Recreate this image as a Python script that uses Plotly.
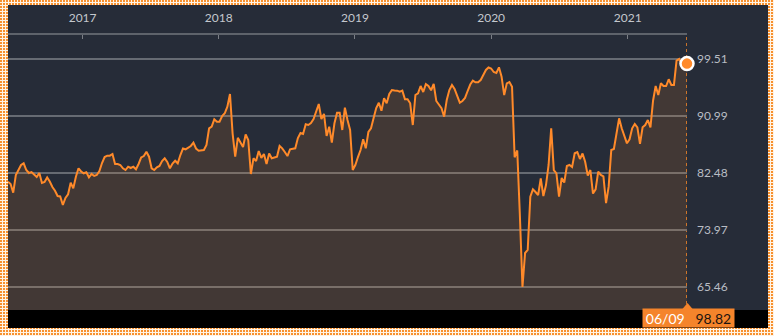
import base64
import pandas as pd
import plotly.graph_objects as go

# Weekly closing index values, mid-June 2016 through 9 June 2021
values = [
    81.19, 80.84, 79.54, 82.19, 82.93, 83.68, 83.93, 82.93, 82.49, 82.63,
    82.26, 81.89, 82.49, 80.99, 81.14, 81.81, 81.22, 80.39, 79.84, 79.05,
    78.98, 77.71, 78.75, 79.30, 81.04, 80.20, 81.93, 83.19, 82.71, 82.44,
    82.59, 81.84, 82.34, 82.04, 82.19, 82.78, 83.98, 84.87, 85.07, 85.07,
    85.32, 83.83, 83.83, 83.68, 83.19, 82.93, 83.43, 83.23, 83.43, 83.04,
    83.83, 84.80, 85.02, 85.67, 84.92, 83.19, 82.93, 83.34, 83.53, 84.28,
    84.68, 84.13, 83.19, 83.90, 84.32, 83.93, 85.17, 86.14, 86.02, 86.29,
    86.52, 87.01, 86.14, 85.82, 85.85, 85.92, 86.67, 89.16, 89.40, 90.51,
    90.15, 90.15, 91.00, 91.40, 92.39, 94.28, 88.41, 84.92, 87.74, 86.97,
    86.37, 88.23, 87.41, 82.34, 84.68, 84.28, 85.77, 84.75, 85.32, 83.83,
    85.40, 84.68, 84.80, 84.92, 86.52, 86.17, 85.62, 85.02, 86.02, 86.14,
    86.17, 87.71, 88.46, 88.31, 89.76, 89.65, 89.95, 90.55, 91.74, 92.79,
    90.55, 91.30, 88.01, 89.40, 87.01, 89.91, 91.49, 91.49, 88.91, 92.24,
    90.40, 88.91, 82.93, 83.68, 84.87, 85.92, 87.52, 86.17, 88.61, 89.16,
    90.70, 92.19, 92.98, 91.79, 93.64, 92.89, 94.28, 94.88, 94.81, 94.78,
    94.63, 94.78, 93.49, 93.49, 92.89, 89.65, 94.13, 94.39, 95.48, 94.58,
    95.75, 95.48, 94.84, 95.78, 93.24, 92.64, 92.15, 90.89, 93.39, 94.88,
    95.63, 95.03, 93.84, 92.98, 93.24, 93.69, 94.73, 95.70, 96.27, 96.03,
    96.03, 96.37, 97.12, 97.87, 98.24, 98.09, 97.57, 97.42, 98.27, 96.87,
    94.13, 95.88, 96.08, 95.37, 84.83, 85.85, 76.21, 65.46, 70.54, 70.99,
    78.95, 80.05, 79.65, 79.20, 81.69, 79.05, 80.69, 83.68, 89.16, 82.93,
    82.44, 78.95, 81.74, 81.07, 83.53, 83.68, 83.38, 85.43, 85.62, 84.58,
    85.40, 84.17, 82.11, 82.93, 79.42, 80.05, 82.68, 82.19, 81.99, 78.00,
    80.44, 85.92, 86.07, 88.16, 90.65, 89.16, 88.01, 86.92, 87.52, 89.16,
    89.80, 89.31, 86.82, 89.31, 89.65, 90.40, 89.31, 93.28, 95.48, 94.13,
    95.88, 95.48, 95.48, 96.48, 95.63, 95.63, 99.26, 99.51, 98.76, 98.96,
    98.82,
]
dates = pd.date_range(end="2021-06-09", periods=len(values), freq="7D")

y_tick_values = [65.46, 73.97, 82.48, 90.99, 99.51]
y_tick_labels = ["65.46", "73.97", "82.48", "90.99", "99.51"]
year_ticks = ["2017-01-01", "2018-01-01", "2019-01-01", "2020-01-01", "2021-01-01"]
year_labels = ["2017", "2018", "2019", "2020", "2021"]
last_date_label = "06/09"

ORANGE = "#ff8a2a"
NAVY = "#262c38"
GRID = "#666b73"
LABEL = "#b9bdc4"

W, H = 774, 336
L, R, T, B = 8, 87, 35, 26
PW, PH = W - L - R, H - T - B


def px(x):
    return (x - L) / PW


def py(y):
    return (H - B - y) / PH


# value scale: bottom gridline at 287px, top gridline at 59px
per_px = (y_tick_values[-1] - y_tick_values[0]) / (287 - 59)
y_range = [y_tick_values[0] - (H - B - 287) * per_px,
           y_tick_values[-1] + (59 - T) * per_px]

fig = go.Figure()
fig.add_trace(go.Scatter(
    x=dates, y=values, mode="lines",
    line=dict(color=ORANGE, width=2),
    fill="tozeroy", fillcolor="rgba(255,138,42,0.13)",
    hoverinfo="skip",
))
fig.add_trace(go.Scatter(
    x=[dates[-1]], y=[values[-1]], mode="markers",
    marker=dict(size=13, color=ORANGE, line=dict(color="white", width=2.5)),
    cliponaxis=False, hoverinfo="skip",
))

# dotted orange frame around the panel
svg = (
    f'<svg xmlns="http://www.w3.org/2000/svg" width="{W}" height="{H}">'
    '<defs><pattern id="p" width="3" height="3" patternUnits="userSpaceOnUse">'
    '<rect width="3" height="3" fill="#fff3e4"/>'
    '<rect width="2" height="2" fill="#f7902e"/></pattern></defs>'
    f'<rect width="{W}" height="{H}" fill="url(#p)"/></svg>'
)
frame_src = "data:image/svg+xml;base64," + base64.b64encode(svg.encode()).decode()

fig.update_layout(
    width=W, height=H, autosize=False,
    margin=dict(l=L, r=R, t=T, b=B, pad=0),
    paper_bgcolor="#f9b36a", plot_bgcolor=NAVY,
    showlegend=False, hovermode=False,
    font=dict(family="Lato, sans-serif", color=LABEL, size=12),
    images=[dict(
        source=frame_src, xref="paper", yref="paper",
        x=px(0), y=py(0), sizex=W / PW, sizey=H / PH,
        xanchor="left", yanchor="top", sizing="stretch", layer="below",
    )],
    shapes=[
        dict(type="rect", xref="paper", yref="paper",
             x0=px(8), x1=px(768), y0=py(328), y1=py(5),
             fillcolor=NAVY, line=dict(width=0), layer="below"),
        dict(type="rect", xref="paper", yref="paper",
             x0=px(8), x1=px(768), y0=py(328), y1=py(310),
             fillcolor="#000000", line=dict(width=0), layer="above"),
        dict(type="line", xref="x", yref="paper",
             x0=dates[-1], x1=dates[-1], y0=0, y1=1,
             line=dict(color="#c8732b", width=2, dash="dot"), layer="below"),
        dict(type="path", xref="paper", yref="paper",
             path=f"M {px(682)} {py(309.5)} L {px(687.5)} {py(303)} L {px(693)} {py(309.5)} Z",
             fillcolor="#f5842b", line=dict(width=0), layer="above"),
    ],
    annotations=[dict(
        xref="paper", yref="paper", x=px(688), y=py(318.3),
        xanchor="center", yanchor="middle", showarrow=False,
        width=91, height=18, borderpad=0, bgcolor="#f5842b",
        text=(f"<span style='color:#ffffff'>{last_date_label}</span>"
              "\u00a0\u00a0\u00a0"
              f"<span style='color:#1c1410'>{values[-1]:.2f}</span>"),
        font=dict(size=14, family="Lato, sans-serif"),
    )],
)

fig.update_xaxes(
    type="date", side="top",
    range=[dates[0], dates[-1]],
    tickvals=year_ticks, ticktext=year_labels,
    showgrid=False, zeroline=False,
    showline=True, linecolor="#5e636b", linewidth=2,
    ticks="inside", ticklen=4, tickwidth=1, tickcolor="#7a7e85",
    tickfont=dict(size=12, color="#c4c8ce"),
    ticklabelstandoff=6,
)
fig.update_yaxes(
    side="right", range=y_range,
    tickvals=y_tick_values, ticktext=y_tick_labels,
    showgrid=True, gridcolor=GRID, gridwidth=1.5,
    zeroline=False, showline=False, ticks="",
    tickfont=dict(size=12, color=LABEL),
    ticklabelstandoff=9,
)

fig.write_html("out.html")
